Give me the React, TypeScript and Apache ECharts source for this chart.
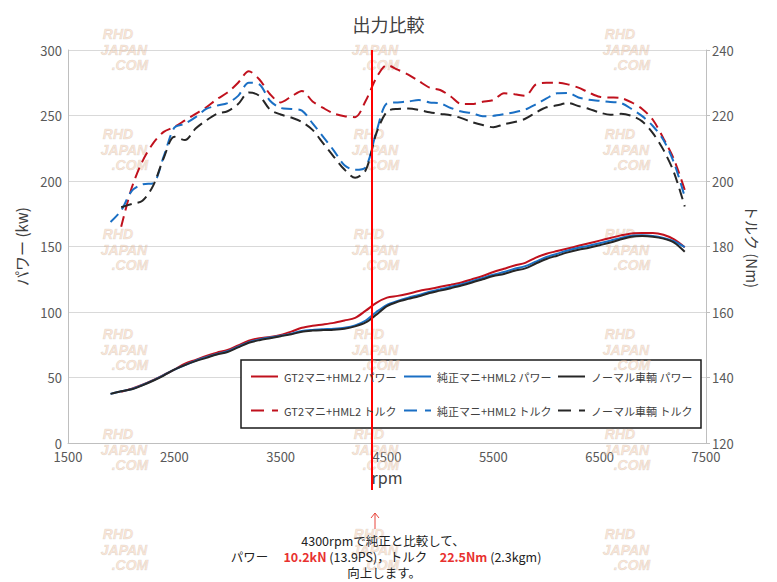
import React, { useEffect, useRef } from "react";
import * as echarts from "echarts";

const TITLE = "出力比較";
const X_NAME = "rpm";
const Y_LEFT_NAME = "パワー (kw)";
const Y_RIGHT_NAME = "トルク (Nm)";

const SERIES_NAMES = [
  "GT2マニ+HML2 パワー",
  "純正マニ+HML2 パワー",
  "ノーマル車輌 パワー",
  "GT2マニ+HML2 トルク",
  "純正マニ+HML2 トルク",
  "ノーマル車輌 トルク",
];

const RPM = [
  1900, 2000, 2100, 2200, 2300, 2400, 2500, 2600, 2700, 2800, 2900, 3000, 3100, 3200,
  3300, 3400, 3500, 3600, 3700, 3800, 3900, 4000, 4100, 4200, 4300, 4400, 4500, 4600,
  4700, 4800, 4900, 5000, 5100, 5200, 5300, 5400, 5500, 5600, 5700, 5800, 5900, 6000,
  6100, 6200, 6300, 6400, 6500, 6600, 6700, 6800, 6900, 7000, 7100, 7200, 7300,
];

const POWER_GT2 = [
  null, 39, 41.5, 44.5, 48, 52, 56, 60.5, 63.5, 66.5, 69, 71, 74.5, 78,
  80, 81, 82.5, 85, 88, 89.5, 90.5, 91.7, 93.5, 95.5, 101, 107, 111, 112.3,
  114, 116, 117.6, 119.2, 120.8, 122.5, 125, 127.5, 130.5, 133, 135.5, 137.5, 141.5, 144.5,
  146.5, 148.5, 150.5, 152.5, 154.5, 156.5, 158.5, 160, 160.3, 160.3, 159, 155.5, 149.5,
];

const POWER_STOCK_MANI = [
  37.5, 39.5, 41.2, 44.3, 47.8, 51.8, 56, 59.5, 62.8, 65.5, 68, 70, 73.5, 77,
  79, 80.5, 81.8, 83.5, 85.5, 86.3, 86.8, 87.2, 88, 89.8, 93.5, 100, 105.5, 108.5,
  111, 113, 115.5, 117.3, 119.2, 121.2, 123.5, 126, 128.5, 130.5, 133, 135, 138.5, 142,
  144.5, 147, 149, 150.5, 152.5, 154.5, 156.5, 158.3, 158.5, 158, 156.5, 154, 149.5,
];

const POWER_NORMAL = [
  37.5, 39.5, 41, 44, 47.5, 51.5, 56, 59.5, 62.5, 65, 67.5, 69.5, 73, 76.5,
  78.5, 80, 81.5, 83, 85, 85.8, 86.2, 86.5, 87.3, 89, 92, 98, 104.5, 107.8,
  110, 112, 114.5, 116.3, 118.2, 120.2, 122.5, 125, 127.5, 129, 131.5, 133.3, 137, 140.5,
  143, 145.5, 147.5, 149, 151, 153, 155.5, 157.5, 158, 157.5, 156, 153, 146,
];

const TORQUE_GT2 = [
  null, 186, 198, 206, 211.5, 215, 216.5, 218.5, 220.5, 222.5, 225, 227, 230, 233.5,
  231, 226.5, 224, 225.8, 227.5, 224.3, 222.3, 220.6, 219.8, 219.5, 224.5, 231.5, 235.4, 234,
  232.5, 230.5, 228.5, 227.8, 225.8, 223.5, 223.5, 224.2, 224.7, 226.8, 226.5, 226, 229.5, 230,
  230, 229.5, 228.5, 227, 225.7, 225.5, 225.3, 224, 222, 218.7, 213, 206.5, 197.3,
];

const TORQUE_STOCK_MANI = [
  187.5, 191, 197, 199, 199.3, 207.5, 216.3, 217.5, 219.5, 222, 223, 223.8, 226, 230,
  229.5, 224.5, 222.3, 222, 221.5, 217.6, 213.5, 209.3, 204.8, 203.4, 204.2, 215, 223.7, 224,
  224.3, 224.7, 224, 223.7, 222.3, 221.2, 220.7, 219.8, 219.9, 220.4, 221, 221.8, 223.4, 225.2,
  226.8, 226.9, 225.5, 224.8, 224.5, 224.1, 223.8, 222, 219.8, 216.8, 212.5, 205.5, 195.2,
];

const TORQUE_NORMAL = [
  null, 192, 193, 194, 198.5, 207, 213.5, 212.5, 216, 218.5, 220.5, 221.3, 223.5, 227,
  226, 221.8, 220.3, 219.4, 218, 215.6, 211.5, 207.4, 203.5, 201, 203.3, 214.6, 221.2, 222,
  222.1, 221.7, 221, 220.5, 220.1, 219.2, 218, 217.1, 216.4, 217.3, 218, 219, 220.9, 222.5,
  223.1, 223.8, 222.9, 222, 220.9, 220.2, 220.5, 219.9, 218.2, 214.6, 209.5, 202.5, 192.2,
];

const NOTE_LINE1 = "4300rpmで純正と比較して、";
const NOTE_POWER = "10.2kN";
const NOTE_POWER_PS = "(13.9PS)";
const NOTE_TORQUE = "22.5Nm";
const NOTE_TORQUE_KGM = "(2.3kgm)";
const NOTE_LINE3 = "向上します。";
const WATERMARK_LINES = ["RHD", "JAPAN", ".COM"];

const FONT = "'Noto Sans CJK JP', 'Noto Sans', sans-serif";
const RED = "#c0111d";
const BLUE = "#1a6fc4";
const BLACK = "#262626";

function pairs(values: (number | null)[]) {
  const out: [number, number][] = [];
  values.forEach((v, i) => {
    if (v !== null) out.push([RPM[i], v]);
  });
  return out;
}

const plain = (v: number) => String(v);

export default function App() {
  const ref = useRef<HTMLDivElement>(null);

  useEffect(() => {
    if (!ref.current) return;
    const chart = echarts.init(ref.current, undefined, { renderer: "svg" });

    const powerSets = [POWER_GT2, POWER_STOCK_MANI, POWER_NORMAL];
    const torqueSets = [TORQUE_GT2, TORQUE_STOCK_MANI, TORQUE_NORMAL];
    const colors = [RED, BLUE, BLACK];

    const series: any[] = [];
    torqueSets.forEach((d, i) => {
      series.push({
        name: SERIES_NAMES[3 + i],
        type: "line",
        yAxisIndex: 1,
        data: pairs(d),
        symbol: "none",
        showSymbol: false,
        smooth: 0.3,
        color: colors[i],
        lineStyle: { width: 2, color: colors[i], type: [11, 6] },
        z: 2,
      });
    });
    powerSets.forEach((d, i) => {
      series.push({
        name: SERIES_NAMES[i],
        type: "line",
        yAxisIndex: 0,
        data: pairs(d),
        symbol: "none",
        showSymbol: false,
        smooth: 0.3,
        color: colors[i],
        lineStyle: { width: 2, color: colors[i] },
        z: 3,
      });
    });

    const legendLeft = [250, 403, 557];
    const legendTop = [371, 405];
    const legends: any[] = SERIES_NAMES.map((name, i) => ({
      data: [name],
      left: legendLeft[i % 3],
      top: legendTop[Math.floor(i / 3)],
      padding: 0,
      itemWidth: 27,
      itemHeight: 12,
      itemGap: 0,
      selectedMode: false,
      z: 5,
      itemStyle: { color: "rgba(0,0,0,0)", borderColor: "rgba(0,0,0,0)", borderWidth: 0 },
      textStyle: { fontFamily: FONT, fontSize: 11, color: "#404040", padding: [0, 0, 0, 1] },
      lineStyle: i >= 3 ? { type: [13, 8], width: 2 } : { width: 2 },
    }));

    // faint site watermark repeated over the picture, as in the reference
    const watermarks: any[] = [];
    const cols = [124, 375, 626];
    const rows = [27, 127, 227, 327, 427, 527];
    const lineOffsets = [-6, 0, 6];
    cols.forEach((cx, ci) => {
      rows.forEach((ry, ri) => {
        WATERMARK_LINES.forEach((t, k) => {
          // the top word of the middle block is hidden under the title in the reference
          if (ci === 1 && ri === 0 && k === 0) return;
          watermarks.push({
            type: "text",
            x: cx + lineOffsets[k],
            y: ry + k * 15.5,
            z: 1,
            silent: true,
            style: {
              text: t,
              align: "center",
              verticalAlign: "top",
              font: "italic bold 14px 'Liberation Sans', Arial, sans-serif",
              fill: "rgba(244,196,160,0.42)",
              stroke: "rgba(170,170,170,0.35)",
              lineWidth: 0.6,
            },
          });
        });
      });
    });

    chart.setOption({
      animation: false,
      backgroundColor: "#ffffff",
      textStyle: { fontFamily: FONT },
      title: {
        text: TITLE,
        left: "center",
        top: 15,
        padding: 0,
        textStyle: { fontFamily: FONT, fontSize: 18, fontWeight: "normal", color: "#404040" },
      },
      grid: { left: 68, right: 71, top: 50, bottom: 139, containLabel: false },
      legend: legends,
      xAxis: {
        type: "value",
        min: 1500,
        max: 7500,
        interval: 1000,
        name: X_NAME,
        nameLocation: "middle",
        nameGap: 26,
        nameTextStyle: { fontFamily: FONT, fontSize: 16, color: "#404040" },
        axisLine: { show: true, lineStyle: { color: "#bfbfbf", width: 1 } },
        axisTick: { show: false },
        splitLine: { show: false },
        axisLabel: { fontFamily: FONT, fontSize: 13, color: "#595959", margin: 7, formatter: plain },
      },
      yAxis: [
        {
          type: "value",
          min: 0,
          max: 300,
          interval: 50,
          position: "left",
          name: Y_LEFT_NAME,
          nameLocation: "middle",
          nameGap: 38,
          nameRotate: 90,
          nameTextStyle: { fontFamily: FONT, fontSize: 15, color: "#404040" },
          axisLine: { show: true, lineStyle: { color: "#bfbfbf", width: 1 } },
          axisTick: { show: false },
          splitLine: { show: true, lineStyle: { color: "#d9d9d9", width: 1 } },
          axisLabel: { fontFamily: FONT, fontSize: 13, color: "#595959", margin: 6, formatter: plain },
        },
        {
          type: "value",
          min: 120,
          max: 240,
          interval: 20,
          position: "right",
          name: Y_RIGHT_NAME,
          nameLocation: "middle",
          nameGap: 38,
          nameRotate: -90,
          nameTextStyle: { fontFamily: FONT, fontSize: 15, color: "#404040" },
          axisLine: { show: true, lineStyle: { color: "#bfbfbf", width: 1 } },
          axisTick: { show: true, length: 4, lineStyle: { color: "#bfbfbf" } },
          splitLine: { show: false },
          axisLabel: { fontFamily: FONT, fontSize: 13, color: "#595959", margin: 6, formatter: plain },
        },
      ],
      series,
      graphic: [
        {
          type: "rect",
          z: 0.5,
          silent: true,
          shape: { x: 241, y: 360, width: 460, height: 68 },
          style: { fill: "#ffffff", stroke: "#1a1a1a", lineWidth: 1.5 },
        },
        ...watermarks,
        {
          type: "line",
          z: 4,
          silent: true,
          shape: { x1: 372, y1: 50, x2: 372, y2: 490 },
          style: { stroke: "#ff0000", lineWidth: 2 },
        },
        {
          type: "line",
          z: 4,
          silent: true,
          shape: { x1: 375, y1: 529, x2: 375, y2: 513 },
          style: { stroke: "#e8473d", lineWidth: 1 },
        },
        {
          type: "polyline",
          z: 4,
          silent: true,
          shape: { points: [[371, 518], [375, 513], [379, 518]] },
          style: { stroke: "#e8473d", lineWidth: 1, fill: "none" },
        },
        {
          type: "text",
          z: 4,
          x: 383,
          y: 540,
          style: {
            text: NOTE_LINE1,
            align: "center",
            verticalAlign: "middle",
            font: `12.5px ${FONT}`,
            fill: "#222222",
          },
        },
        {
          type: "text",
          z: 4,
          x: 386,
          y: 556.5,
          style: {
            text: `パワー　 {r|${NOTE_POWER}} ${NOTE_POWER_PS}，トルク　{r|${NOTE_TORQUE}} ${NOTE_TORQUE_KGM}`,
            align: "center",
            verticalAlign: "middle",
            font: `12.5px ${FONT}`,
            fill: "#222222",
            rich: {
              r: { fill: "#e8312f", fontWeight: "bold", fontSize: 12.5, fontFamily: FONT },
            },
          },
        },
        {
          type: "text",
          z: 4,
          x: 384,
          y: 572.5,
          style: {
            text: NOTE_LINE3,
            align: "center",
            verticalAlign: "middle",
            font: `12.5px ${FONT}`,
            fill: "#222222",
          },
        },
      ],
    });

    return () => chart.dispose();
  }, []);

  return (
    <div
      ref={ref}
      style={{ position: "absolute", left: 0, top: 0, width: 777, height: 582 }}
    />
  );
}
